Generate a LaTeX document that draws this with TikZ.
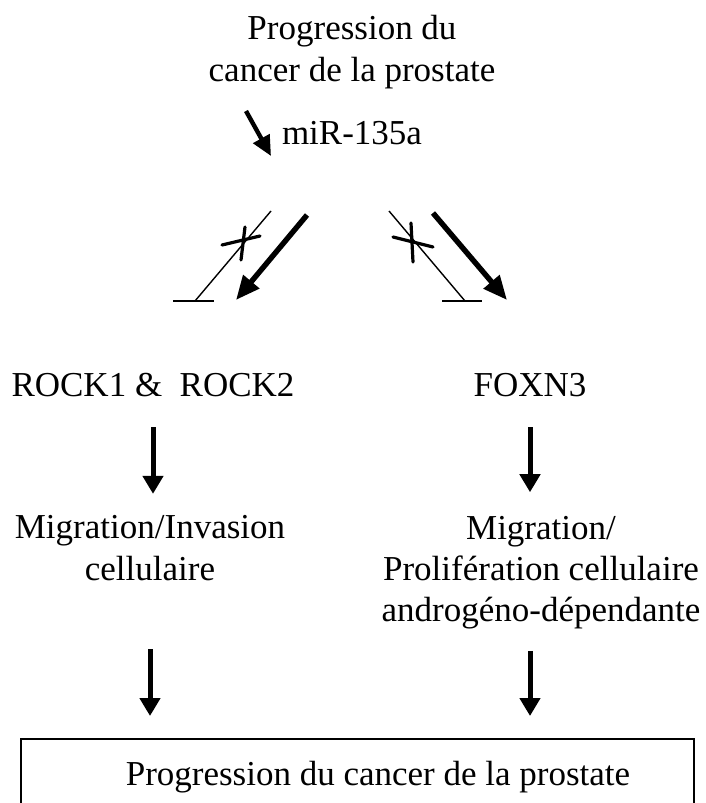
\documentclass[tikz,border=0pt]{standalone}
\usepackage{fontspec}
\setmainfont{Liberation Serif}
\usetikzlibrary{arrows.meta, positioning, calc}

\begin{document}
\begin{tikzpicture}[
    x=0.5pt, y=-0.5pt,
    txt/.style={inner sep=0pt, align=center, font=\fontsize{17.5}{20.5}\selectfont},
    box/.style={draw, line width=1pt, minimum width=336.5pt, minimum height=50pt, inner sep=0pt},
    down/.style={-{Triangle[length=9pt, width=10pt]}, line width=2.5pt},
    diag/.style={-{Triangle[length=12pt, width=10pt]}, line width=2.7pt},
    mirarrow/.style={-{Triangle[length=10pt, width=9pt]}, line width=2.2pt},
    inhib/.style={line width=0.7pt},
    bar/.style={line width=1.4pt},
    cross/.style={line width=1.6pt, line cap=round},
]
    \useasboundingbox (0,0) rectangle (706,803);
    \clip (0,0) rectangle (706,803);

    % Top
    \node[txt, font=\fontsize{17.5}{21}\selectfont] (title) at (352,52) {Progression du\\cancer de la prostate};
    \node[txt] (mir) at (352,133) {miR-135a};
    \coordinate (mirA) at (246,111);
    \coordinate (mirB) at (271,156);
    \draw[mirarrow] (mirA) -- (mirB);

    % Targets
    \node[txt] (rock) at (153,385) {ROCK1 \& \ ROCK2};
    \node[txt] (foxn) at (530,385) {FOXN3};

    % Left branch: inhibition crossed out, activation
    \coordinate (lInhA) at (271,211);
    \coordinate (lInhB) at (195,301);
    \draw[inhib] (lInhA) -- (lInhB);
    \draw[bar] ([xshift=-11pt]lInhB) -- ([xshift=9.5pt]lInhB);
    \draw[cross] (222,245) -- (260,236);
    \draw[cross] (245,227) -- (241,260);
    \coordinate (lActA) at (307,215);
    \coordinate (lActB) at (236,300);
    \draw[diag] (lActA) -- (lActB);

    % Right branch
    \coordinate (rInhA) at (389,211);
    \coordinate (rInhB) at (465,301);
    \draw[inhib] (rInhA) -- (rInhB);
    \draw[bar] ([xshift=-11.5pt]rInhB) -- ([xshift=8.5pt]rInhB);
    \draw[cross] (393,237) -- (433,247);
    \draw[cross] (411,223) -- (413,262);
    \coordinate (rActA) at (433,213);
    \coordinate (rActB) at (507,300);
    \draw[diag] (rActA) -- (rActB);

    % Effects
    \node[txt, font=\fontsize{17.5}{21}\selectfont] (mig1) at (150,548) {Migration/Invasion\\cellulaire};
    \node[txt] (mig2) at (541,573) {Migration/\\Prolifération cellulaire\\androgéno-dépendante};

    \node[box] (prog) at (357.5,789) {};
    \node[txt] (progtxt) at (378,777) {Progression du cancer de la prostate};

    % Arrows
    \draw[down, shorten <=15pt, shorten >=10.5pt] (rock.south) -- (rock.south |- mig1.north);
    \draw[down, shorten <=15pt, shorten >=12pt] (foxn.south) -- (foxn.south |- mig2.north);
    \draw[down, shorten <=34pt, shorten >=11pt] (mig1.south) -- (mig1.south |- prog.north);
    \draw[down, shorten <=10.5pt, shorten >=11pt] (foxn.south |- mig2.south) -- (foxn.south |- prog.north);

\end{tikzpicture}
\end{document}
